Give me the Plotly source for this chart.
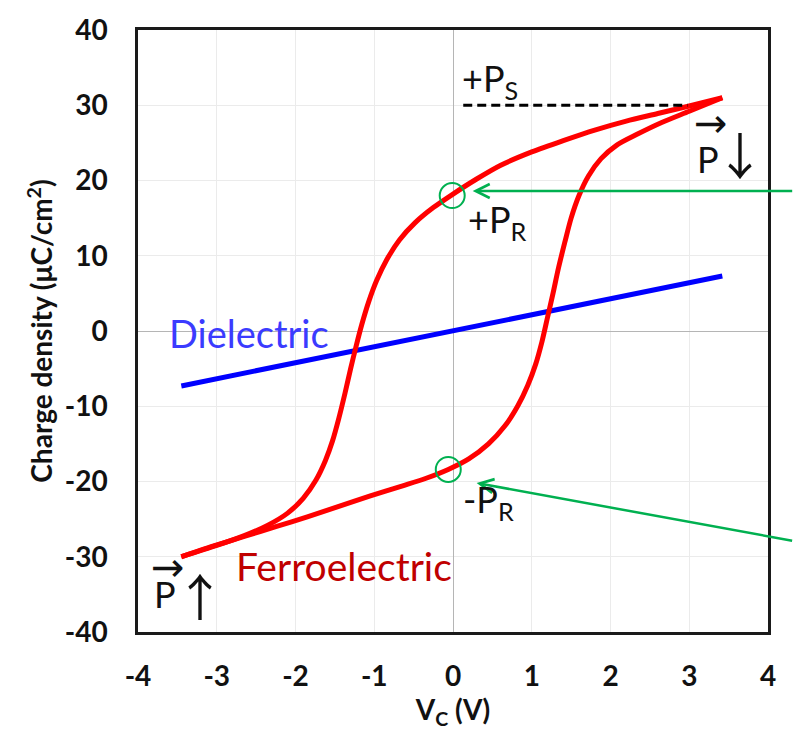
import plotly.graph_objects as go

# Ferroelectric hysteresis loop – upper (descending) branch
V_up = [3.42, 3.00, 2.60, 2.20, 1.80, 1.40, 1.00, 0.60, 0.30, 0.00, -0.25, -0.48,
        -0.68, -0.84, -0.97, -1.07, -1.16, -1.23, -1.30, -1.37, -1.45, -1.53,
        -1.62, -1.74, -1.90, -2.10, -2.35, -2.65, -3.00, -3.45]
Q_up = [31.0, 29.9, 28.9, 27.9, 26.7, 25.3, 23.8, 22.0, 20.2, 18.2, 16.4, 14.4,
        12.1, 9.5, 6.7, 3.9, 0.8, -2.0, -5.0, -8.2, -11.6, -14.6,
        -17.2, -19.8, -22.2, -24.2, -25.8, -27.2, -28.5, -30.0]
# lower (ascending) branch
V_lo = [-3.45, -3.05, -2.65, -2.25, -1.85, -1.45, -1.05, -0.65, -0.35, -0.06, 0.20,
        0.45, 0.66, 0.82, 0.95, 1.05, 1.13, 1.20, 1.27, 1.34, 1.42, 1.50, 1.60,
        1.72, 1.88, 2.08, 2.35, 2.65, 3.00, 3.42]
Q_lo = [-30.0, -28.6, -27.3, -26.0, -24.7, -23.3, -21.9, -20.6, -19.6, -18.4, -17.0,
        -15.0, -12.6, -10.0, -7.2, -4.4, -1.4, 1.8, 5.0, 8.4, 11.8, 15.0, 18.0,
        20.6, 22.9, 24.7, 26.2, 27.7, 29.2, 31.0]

# Dielectric (linear)
V_diel = [-3.45, 3.42]
Q_diel = [-7.3, 7.3]

# Saturation polarisation marker line
V_ps = [0.13, 2.98]
Q_ps = [30.0, 30.0]

# Remanent polarisation points
V_pr = [-0.01, -0.06]
Q_pr = [18.0, -18.4]

# Arrow tips (data) and tail offsets (pixels)
V_tip = [0.25, 0.30]
Q_tip = [18.6, -20.2]
tail_dx = [321, 317]
tail_dy = [0, 58]

x_ticks = [-4, -3, -2, -1, 0, 1, 2, 3, 4]
x_labels = ["-4", "-3", "-2", "-1", "0", "1", "2", "3", "4"]
y_ticks = [-40, -30, -20, -10, 0, 10, 20, 30, 40]
y_labels = ["-40", "-30", "-20", "-10", "0", "10", "20", "30", "40"]

RED = "#ff0000"
BLUE = "#0000ff"
GREEN = "#00b050"
FONT = "Lato"
ARROWFONT = "Noto Sans CJK SC"

fig = go.Figure()
fig.add_trace(go.Scatter(x=V_diel, y=Q_diel, mode="lines",
                         line=dict(color=BLUE, width=5), showlegend=False))
fig.add_trace(go.Scatter(x=V_up, y=Q_up, mode="lines",
                         line=dict(color=RED, width=5, shape="spline", smoothing=0.8),
                         showlegend=False))
fig.add_trace(go.Scatter(x=V_lo, y=Q_lo, mode="lines",
                         line=dict(color=RED, width=5, shape="spline", smoothing=0.8),
                         showlegend=False))
fig.add_trace(go.Scatter(x=V_ps, y=Q_ps, mode="lines",
                         line=dict(color="black", width=2.8, dash="9px,5px"),
                         showlegend=False))
fig.add_trace(go.Scatter(x=V_pr, y=Q_pr, mode="markers",
                         marker=dict(symbol="circle-open", size=25, color=GREEN,
                                     line=dict(width=2, color=GREEN)),
                         showlegend=False))

for xt, yt, dx, dy in zip(V_tip, Q_tip, tail_dx, tail_dy):
    fig.add_annotation(x=xt, y=yt, ax=dx, ay=dy, text="", showarrow=True,
                       arrowhead=5, arrowsize=1.1, arrowwidth=2.5,
                       arrowcolor=GREEN, standoff=0)

txt = dict(size=36, family=FONT, color="#111")
labels = [
    ("+P<sub>S</sub>", 0.09, 33.3, txt),
    ("+P<sub>R</sub>", 0.17, 14.5, txt),
    ("-P<sub>R</sub>", 0.10, -22.6, txt),
    ("Ferroelectric", -2.78, -31.2, dict(size=39, family=FONT, color="#c00000")),
    ("Dielectric", -3.63, -0.2, dict(size=38, family=FONT, color="#3b3bff")),
]
for t, x, y, f in labels:
    fig.add_annotation(x=x, y=y, text=t, showarrow=False, xanchor="left",
                       yanchor="middle", font=f)

# P with vector arrow and direction arrows
glyphs = [
    ("P", 3.24, 22.9, 36, FONT),
    ("\u2192", 3.28, 27.6, 40, "DejaVu Sans"),
    ("\u2193", 3.64, 23.6, 50, ARROWFONT),
    ("P", -3.66, -34.9, 36, FONT),
    ("\u2192", -3.62, -31.3, 40, "DejaVu Sans"),
    ("\u2191", -3.21, -35.0, 50, ARROWFONT),
]
for t, x, y, s, fam in glyphs:
    fig.add_annotation(x=x, y=y, text=t, showarrow=False, xanchor="center",
                       yanchor="middle", font=dict(size=s, family=fam, color="#111"))

fig.update_xaxes(range=[-4, 4], tickvals=x_ticks, ticktext=x_labels,
                 showgrid=True, gridcolor="#ebebeb",
                 gridwidth=1, zeroline=True, zerolinecolor="#b5b5b5", zerolinewidth=1,
                 showline=True, linecolor="#1a1a1a", linewidth=2.5, mirror=True,
                 ticks="outside", ticklen=18, tickcolor="rgba(0,0,0,0)",
                 tickfont=dict(size=28, family=FONT, color="#111", weight="bold"),
                 title=dict(text="V<sub>C</sub> (V)", standoff=10,
                            font=dict(size=28, family=FONT, color="#111", weight="bold")))
fig.update_yaxes(range=[-40, 40], tickvals=y_ticks, ticktext=y_labels,
                 showgrid=True, gridcolor="#ebebeb",
                 gridwidth=1, zeroline=True, zerolinecolor="#b5b5b5", zerolinewidth=1,
                 showline=True, linecolor="#1a1a1a", linewidth=2.5, mirror=True,
                 ticks="outside", ticklen=22, tickcolor="rgba(0,0,0,0)",
                 tickfont=dict(size=28, family=FONT, color="#111", weight="bold"),
                 title=dict(text="Charge density (\u03bcC/cm<sup>2</sup>)", standoff=4,
                            font=dict(size=28, family=FONT, color="#111", weight="bold")))

fig.update_layout(width=794, height=748, margin=dict(l=138, r=26, t=25, b=116),
                  paper_bgcolor="white", plot_bgcolor="white")

fig.write_html("out.html")
